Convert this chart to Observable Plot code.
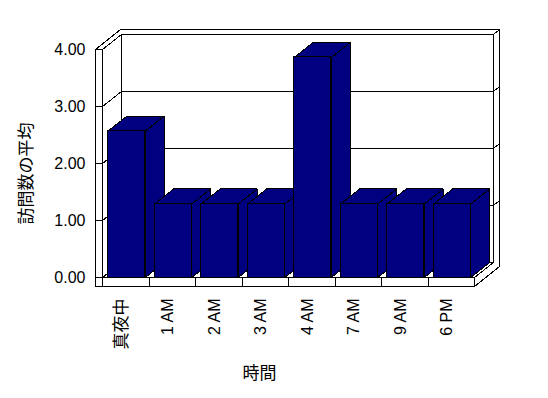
<!DOCTYPE html>
<html><head><meta charset="utf-8">
<script src="https://cdn.jsdelivr.net/npm/d3@7"></script>
<script src="https://cdn.jsdelivr.net/npm/@observablehq/plot@0.6"></script>
<style>
html,body{margin:0;padding:0;background:#fff;}
#chart svg path, #chart svg rect, #chart svg line {shape-rendering: crispEdges;}
</style>
</head><body><div id="chart"></div>
<script>
// ---- data ----
const categories = ["真夜中", "1 AM", "2 AM", "3 AM", "4 AM", "7 AM", "9 AM", "6 PM"];
const values = [2.57, 1.29, 1.29, 1.29, 3.86, 1.29, 1.29, 1.29];
const yTicks = [0, 1, 2, 3, 4];
const xTitle = "時間";
const yTitle = "訪問数の平均";

// ---- layout ----
const W = 548, H = 398, ML = 102, MR = 74, MT = 49, MB = 121;
const N = categories.length, YMAX = d3.max(yTicks);
const bandPx = (W - ML - MR) / N, unitPx = (H - MT - MB) / YMAX;
const DX = 19 / bandPx, DY = 15 / unitPx;     // depth of the 3D box
const TX = 6 / bandPx, TY = 5 / unitPx;       // back wall thickness
const WALL = 7 / bandPx, FLOOR = 9 / unitPx;  // left wall / floor thickness
const B0 = 0.12, B1 = 0.92;                   // bar extent inside band
const NAVY = "#000080";
const LATIN = "'Liberation Sans', 'Noto Sans CJK JP', sans-serif";
const isCJK = s => /[^\x00-\x7F]/.test(s);

const poly = (id, pts) => pts.map(([x, y]) => ({id, x, y}));
const polyMark = (data, fill) => Plot.line(data, {x: "x", y: "y", z: "id", fill, stroke: "black", strokeWidth: 1, curve: "linear-closed", strokeLinejoin: "miter", strokeLinecap: "butt"});
const linkMark = (data) => Plot.link(data, {x1: "x1", y1: "y1", x2: "x2", y2: "y2", stroke: "black", strokeWidth: 1});

const inner = yTicks.filter(k => k > 0 && k < YMAX);

const wallTop = poly("top", [[-WALL, YMAX], [-WALL + DX + TX, YMAX + DY + TY], [N + DX + TX, YMAX + DY + TY], [N + DX, YMAX + DY], [DX, YMAX + DY], [0, YMAX]]);
const rightEnd = poly("end", [[N, 0], [N, -FLOOR], [N + DX + TX, -FLOOR + DY + TY], [N + DX + TX, YMAX + DY + TY], [N + DX, YMAX + DY], [N + DX, DY]]);
const backWall = poly("back", [[DX, DY], [N + DX, DY], [N + DX, YMAX + DY], [DX, YMAX + DY]]);
const leftSide = poly("left", [[0, 0], [0, YMAX], [DX, YMAX + DY], [DX, DY]]);
const floorTop = poly("floor", [[0, 0], [N, 0], [N + DX, DY], [DX, DY]]);
const floorFront = poly("ff", [[-WALL, -FLOOR], [N, -FLOOR], [N, 0], [-WALL, 0]]);
const wallFront = poly("wf", [[-WALL, -FLOOR], [0, -FLOOR], [0, YMAX], [-WALL, YMAX]]);

const backGrid = inner.map(k => ({x1: DX, y1: k + DY, x2: N + DX, y2: k + DY}));
const endGrid = inner.map(k => ({x1: N + DX, y1: k + DY, x2: N + DX + TX, y2: k + DY + TY}));
const sideGrid = inner.map(k => ({x1: 0, y1: k, x2: DX, y2: k + DY}));
const wallTicks = yTicks.filter(k => k < YMAX).map(k => ({x1: -WALL, y1: k, x2: 0, y2: k}));
const floorSeps = d3.range(1, N).map(i => ({x1: i, y1: -FLOOR, x2: i, y2: 0}));

const sides = values.flatMap((v, i) => poly("s" + i, [[i + B1, 0], [i + B1, v], [i + B1 + DX, v + DY], [i + B1 + DX, DY]]));
const tops = values.flatMap((v, i) => poly("t" + i, [[i + B0, v], [i + B1, v], [i + B1 + DX, v + DY], [i + B0 + DX, v + DY]]));

const chart = Plot.plot({
  width: W, height: H,
  marginLeft: ML, marginRight: MR, marginTop: MT, marginBottom: MB,
  x: {domain: [0, N], axis: null},
  y: {domain: [0, YMAX], axis: null},
  style: {background: "white", color: "black", fontFamily: LATIN, fontSize: "16px"},
  marks: [
    polyMark(wallTop, "white"),
    polyMark(rightEnd, "white"),
    polyMark(backWall, "white"),
    linkMark(backGrid),
    linkMark(endGrid),
    polyMark(leftSide, "white"),
    linkMark(sideGrid),
    polyMark(floorTop, "white"),
    polyMark(floorFront, "white"),
    linkMark(floorSeps),
    polyMark(wallFront, "white"),
    linkMark(wallTicks),
    polyMark(sides, NAVY),
    polyMark(tops, NAVY),
    Plot.rect(values, {x1: (d, i) => i + B0, x2: (d, i) => i + B1, y1: 0, y2: d => d, fill: NAVY, stroke: "black", strokeWidth: 1}),
    // y tick labels
    Plot.text(yTicks, {y: d => d, frameAnchor: "left", text: d => d3.format(".2f")(d), textAnchor: "end", dx: -17, fontSize: 16, letterSpacing: 0.6, fill: "black"}),
    // x tick labels (rotated)
    Plot.text(categories, {x: (d, i) => i + 0.5, frameAnchor: "bottom", text: d => d, rotate: -90, textAnchor: "end", dy: 21, dx: 1, fontSize: d => isCJK(d) ? 17 : 16, letterSpacing: 0.4, fill: "black"}),
    // axis titles
    Plot.text([xTitle], {frameAnchor: "bottom", text: d => d, dy: 101, dx: -29, fontSize: 17, fill: "black"}),
    Plot.text([yTitle], {frameAnchor: "left", y: () => YMAX / 2, text: d => d, rotate: -90, textAnchor: "middle", dx: -76, dy: 10, fontSize: 17, fill: "black"})
  ]
});
document.getElementById("chart").appendChild(chart);
</script>
</body></html>
